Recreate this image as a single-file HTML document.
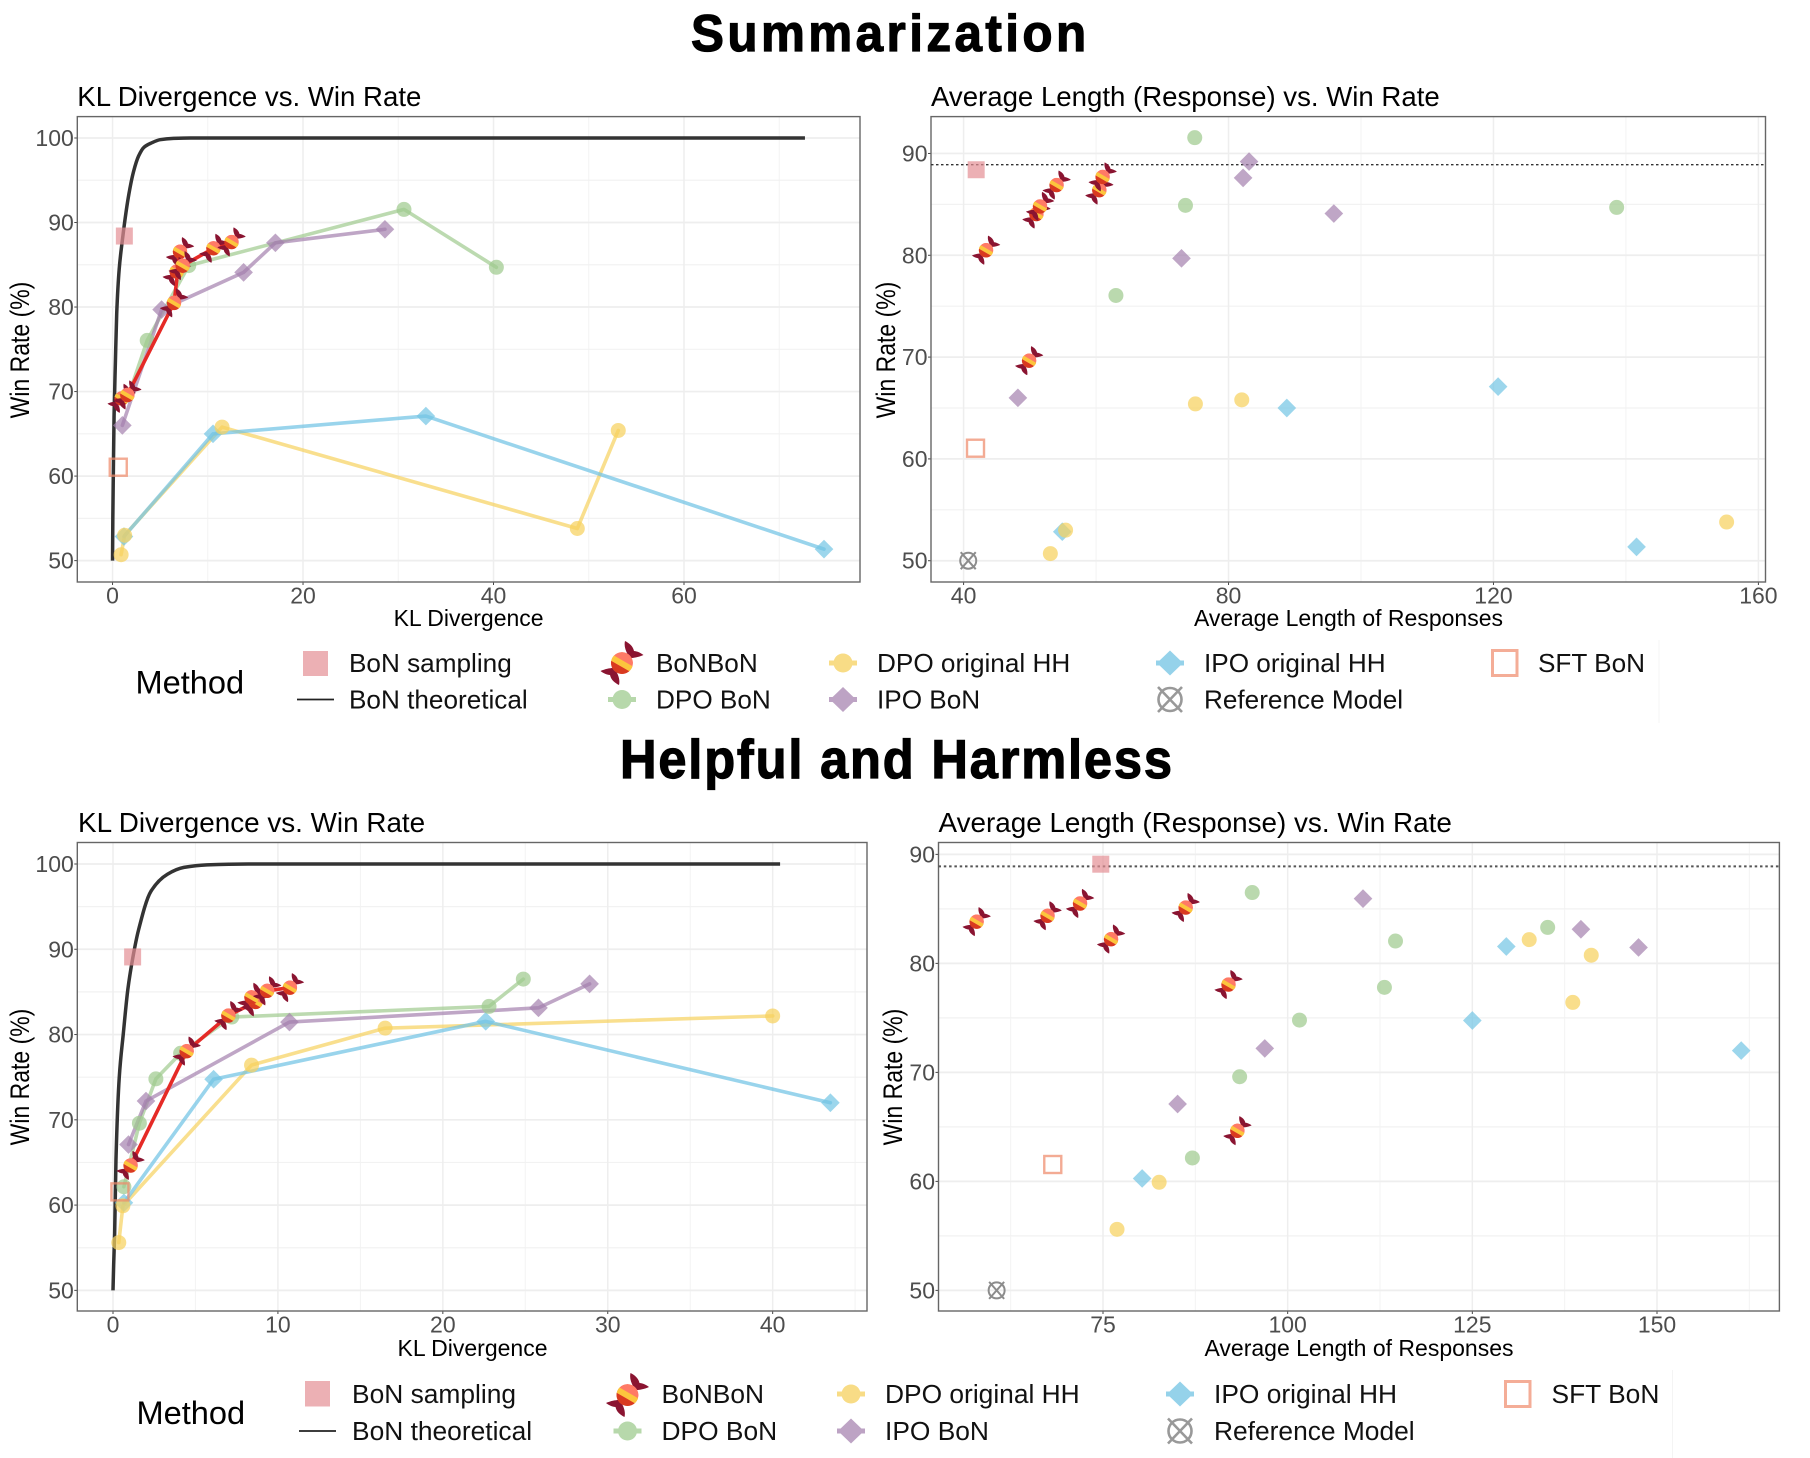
<!DOCTYPE html>
<html lang="en">
<head>
<meta charset="utf-8">
<title>Summarization and Helpful and Harmless: BoNBoN comparison</title>
<style>
html,body{margin:0;padding:0;background:#fff;}
svg{display:block;font-family:"Liberation Sans",Arial,sans-serif;}
.tick{font-size:23px;fill:#4d4d4d;}
.axis{font-size:23px;fill:#000;}
.sub{font-size:27.6px;fill:#000;}
.sub2{font-size:27.85px;fill:#000;}
.lg{font-size:26.15px;fill:#111;}
.lg2{font-size:26.35px;fill:#111;}
.lgt{font-size:32.6px;fill:#000;}
.ttl{font-weight:bold;fill:#000;stroke:#000;stroke-width:1.2px;}
</style>
</head>
<body>
<svg id="figure" xmlns="http://www.w3.org/2000/svg" width="1810" height="1458" viewBox="0 0 1810 1458">
<defs>
  <clipPath id="candy-clip"><circle r="11"></circle></clipPath>
  <g id="candy">
    <path fill="#8a1431" d="M6,-8 C3,-13 2,-18 3,-22 C7,-20 11,-17 12,-12 C15,-12 19,-10 21.5,-8 C17,-6 12,-5 9,-5 Z"></path>
    <path fill="#8a1431" transform="rotate(180)" d="M6,-8 C3,-13 2,-18 3,-22 C7,-20 11,-17 12,-12 C15,-12 19,-10 21.5,-8 C17,-6 12,-5 9,-5 Z"></path>
    <g clip-path="url(#candy-clip)">
      <circle r="11" fill="#ff7a66"></circle>
      <g transform="rotate(30)">
        <rect x="-14" y="-2.5" width="28" height="6" fill="#fcc63d"></rect>
        <rect x="-14" y="3.5" width="28" height="9" fill="#d93a20"></rect>
      </g>
    </g>
  </g>
</defs>
<rect width="1810" height="1458" fill="#fff"></rect>

<text class="ttl" font-size="52" transform="translate(691,51) scale(.95,1)" textLength="416" lengthAdjust="spacing">Summarization</text>
<text class="ttl" font-size="55" transform="translate(620,778) scale(.92,1)" textLength="600" lengthAdjust="spacing">Helpful and Harmless</text>

<text class="sub" x="77.3" y="106">KL Divergence vs. Win Rate</text>
<text class="sub" x="931" y="106">Average Length (Response) vs. Win Rate</text>
<text class="sub2" x="78" y="832">KL Divergence vs. Win Rate</text>
<text class="sub2" x="938.5" y="832">Average Length (Response) vs. Win Rate</text>

<g id="panel-sum-kl"></g>
<g id="panel-sum-len"></g>
<g id="panel-hh-kl"></g>
<g id="panel-hh-len"></g>

<text class="axis" x="468.6" y="626" text-anchor="middle">KL Divergence</text>
<text class="axis" x="1348.5" y="626" text-anchor="middle">Average Length of Responses</text>
<text class="axis" x="472.5" y="1356" text-anchor="middle">KL Divergence</text>
<text class="axis" x="1359" y="1356" text-anchor="middle">Average Length of Responses</text>
<text class="axis" transform="translate(29,350) rotate(-90) scale(1,1.15)" text-anchor="middle">Win Rate (%)</text>
<text class="axis" transform="translate(895,350) rotate(-90) scale(1,1.15)" text-anchor="middle">Win Rate (%)</text>
<text class="axis" transform="translate(29,1077) rotate(-90) scale(1,1.15)" text-anchor="middle">Win Rate (%)</text>
<text class="axis" transform="translate(902,1077) rotate(-90) scale(1,1.15)" text-anchor="middle">Win Rate (%)</text>

<!-- Top legend -->
<g>
  <line x1="1659" x2="1659" y1="640" y2="723" stroke="#f4f4f4" stroke-width="1"></line>
  <text class="lgt" x="135.5" y="693.5">Method</text>
  <rect x="303" y="651" width="25" height="25" fill="#e48e94" opacity=".7"></rect>
  <text class="lg" x="349" y="672">BoN sampling</text>
  <line x1="297" x2="334" y1="699.5" y2="699.5" stroke="#222" stroke-width="1.8"></line>
  <text class="lg" x="349" y="708.5">BoN theoretical</text>
  <use href="#candy" transform="translate(622,663)"></use>
  <text class="lg" x="656" y="672">BoNBoN</text>
  <g fill="#9fcb8f" opacity=".75"><rect x="608" y="697" width="28" height="5"></rect><circle cx="622" cy="699.5" r="9.5"></circle></g>
  <text class="lg" x="656" y="708.5">DPO BoN</text>
  <g fill="#f6d15e" opacity=".75"><rect x="829" y="660.5" width="28" height="5"></rect><circle cx="843" cy="663" r="9.5"></circle></g>
  <text class="lg" x="877" y="672">DPO original HH</text>
  <g fill="#a480ae" opacity=".72"><rect x="829" y="697" width="28" height="5"></rect><path d="M843,687 L856,699.5 L843,712 L830,699.5 Z"></path></g>
  <text class="lg" x="877" y="708.5">IPO BoN</text>
  <g fill="#72c4e4" opacity=".75"><rect x="1156" y="660.5" width="28" height="5"></rect><path d="M1170,650.5 L1183,663 L1170,675.5 L1157,663 Z"></path></g>
  <text class="lg" x="1204" y="672">IPO original HH</text>
  <g fill="none" stroke="#999" stroke-width="2.6"><circle cx="1170" cy="699.5" r="11.5"></circle><path d="M1158,687 L1182,712 M1182,687 L1158,712"></path></g>
  <text class="lg" x="1204" y="708.5">Reference Model</text>
  <rect x="1492.5" y="650.5" width="24.5" height="25" fill="none" stroke="#ef8a6b" stroke-width="3" opacity=".7"></rect>
  <text class="lg" x="1538" y="672">SFT BoN</text>
</g>

<!-- Bottom legend -->
<g>
  <line x1="1672.5" x2="1672.5" y1="1370" y2="1458" stroke="#f4f4f4" stroke-width="1"></line>
  <text class="lgt" x="136.5" y="1424">Method</text>
  <rect x="305" y="1381" width="25" height="25.5" fill="#e48e94" opacity=".7"></rect>
  <text class="lg2" x="352" y="1403">BoN sampling</text>
  <line x1="299" x2="336" y1="1431" y2="1431" stroke="#222" stroke-width="1.8"></line>
  <text class="lg2" x="352" y="1440">BoN theoretical</text>
  <use href="#candy" transform="translate(627.5,1395)"></use>
  <text class="lg2" x="661.5" y="1403">BoNBoN</text>
  <g fill="#9fcb8f" opacity=".75"><rect x="613.5" y="1428.5" width="28" height="5"></rect><circle cx="627.5" cy="1431" r="9.5"></circle></g>
  <text class="lg2" x="661.5" y="1440">DPO BoN</text>
  <g fill="#f6d15e" opacity=".75"><rect x="837" y="1391.5" width="28" height="5"></rect><circle cx="851" cy="1394" r="9.5"></circle></g>
  <text class="lg2" x="885" y="1403">DPO original HH</text>
  <g fill="#a480ae" opacity=".72"><rect x="837" y="1428.5" width="28" height="5"></rect><path d="M851,1418.5 L864,1431 L851,1443.5 L838,1431 Z"></path></g>
  <text class="lg2" x="885" y="1440">IPO BoN</text>
  <g fill="#72c4e4" opacity=".75"><rect x="1166" y="1391.5" width="28" height="5"></rect><path d="M1180,1381.5 L1193,1394 L1180,1406.5 L1167,1394 Z"></path></g>
  <text class="lg2" x="1214" y="1403">IPO original HH</text>
  <g fill="none" stroke="#999" stroke-width="2.6"><circle cx="1180" cy="1431" r="11.5"></circle><path d="M1168,1418.5 L1192,1443.5 M1192,1418.5 L1168,1443.5"></path></g>
  <text class="lg2" x="1214" y="1440">Reference Model</text>
  <rect x="1505.5" y="1381.5" width="24.5" height="25" fill="none" stroke="#ef8a6b" stroke-width="3" opacity=".7"></rect>
  <text class="lg2" x="1551.5" y="1403">SFT BoN</text>
</g>
</svg>

<script>
// ---------- Tick labels ----------
const sumKlTicks = [0, 20, 40, 60];
const sumLenTicks = [40, 80, 120, 160];
const hhKlTicks = [0, 10, 20, 30, 40];
const hhLenTicks = [75, 100, 125, 150];
const winTicksFull = [50, 60, 70, 80, 90, 100];
const winTicksShort = [50, 60, 70, 80, 90];

// ---------- Summarization: win rates ----------
const sumDpoBonWin = [76.05, 84.9, 91.55, 84.7];
const sumIpoBonWin = [66.0, 79.7, 84.1, 87.6, 89.2];
const sumIpoOrigWin = [52.85, 65.0, 67.1, 51.36];
const sumDpoOrigWin = [50.7, 53.0, 65.8, 53.8, 65.4];
const sumSamplingWin = [88.4];
const sumSftWin = [61.05];
const sumReferenceWin = [50];
const sumBaselineWin = [88.9];

// ---------- Summarization: KL divergence ----------
const sumDpoBonKl = [3.64, 8.0, 30.6, 40.3];
const sumDpoBonLeadKl = [1.7];
const sumDpoBonLeadWin = [69.6];
const sumIpoBonKl = [1.03, 5.15, 13.76, 17.1, 28.6];
const sumIpoOrigKl = [1.2, 10.55, 32.9, 74.7];
const sumDpoOrigKl = [0.9, 1.27, 11.5, 48.8, 53.1];
const sumSamplingKl = [1.24];
const sumSftKl = [0.6];
const sumBonbonKl = [0.96, 1.56, 6.46, 7.09, 6.74, 7.37, 10.6, 12.5];
const sumBonbonKlWin = [69.2, 69.6, 80.5, 86.55, 84.2, 84.9, 86.95, 87.7];
const sumCurveKl = [0, 0.03, 0.08, 0.16, 0.3, 0.44, 0.7, 1.03, 1.66, 2.2, 2.73, 3.3, 4.06, 5, 6.4, 8.2, 72.7];
const sumCurveWin = [50, 55, 60, 67, 73.5, 79.3, 84.5, 87.9, 93, 96, 97.85, 98.9, 99.4, 99.8, 99.95, 100, 100];

// ---------- Summarization: average length ----------
const sumDpoBonLen = [63.0, 73.5, 74.9, 138.6];
const sumIpoBonLen = [48.2, 72.9, 95.9, 82.2, 83.1];
const sumIpoOrigLen = [54.9, 88.8, 120.7, 141.6];
const sumDpoOrigLen = [53.1, 55.4, 82.0, 155.2, 75.0];
const sumSamplingLen = [41.9];
const sumSftLen = [41.8];
const sumReferenceLen = [40.7];
const sumBonbonLen = [49.9, 43.4, 51.0, 51.55, 54.05, 60.5, 61.0];
const sumBonbonLenWin = [69.65, 80.5, 84.05, 84.8, 86.9, 86.4, 87.7];

// ---------- Helpful and Harmless: win rates ----------
const hhDpoBonWin = [62.15, 69.6, 74.8, 77.8, 82.05, 83.3, 86.5];
const hhIpoBonWin = [67.1, 72.2, 81.46, 83.13, 85.94];
const hhIpoOrigWin = [60.27, 74.76, 81.55, 72.0];
const hhDpoOrigWin = [55.6, 59.92, 76.42, 80.75, 82.18];
const hhSamplingWin = [89.1];
const hhSftWin = [61.55];
const hhReferenceWin = [50];
const hhBaselineWin = [88.9];
const hhBonbonWin = [64.65, 78.06, 82.23, 83.83, 84.37, 85.13, 85.5];

// ---------- Helpful and Harmless: KL divergence ----------
const hhDpoBonKl = [0.66, 1.6, 2.6, 4.1, 7.2, 22.8, 24.88];
const hhIpoBonKl = [0.94, 2.0, 10.7, 25.8, 28.9];
const hhIpoOrigKl = [0.66, 6.1, 22.6, 43.5];
const hhDpoOrigKl = [0.35, 0.6, 8.4, 16.5, 40.0];
const hhSamplingKl = [1.19];
const hhSftKl = [0.42];
const hhBonbonKl = [1.07, 4.47, 7.0, 8.65, 8.4, 9.35, 10.73];
const hhCurveKl = [0, 0.04, 0.1, 0.18, 0.38, 0.63, 0.9, 1.22, 1.54, 2.3, 3.3, 4.3, 5.7, 8.2, 40.45];
const hhCurveWin = [50, 53, 56.7, 65.3, 75, 80.2, 85.3, 89.2, 92.2, 96.8, 98.8, 99.6, 99.9, 100, 100];

// ---------- Helpful and Harmless: average length ----------
const hhDpoBonLen = [87.1, 93.5, 101.6, 113.1, 114.6, 135.2, 95.2];
const hhIpoBonLen = [85.1, 96.9, 147.5, 139.7, 110.2];
const hhIpoOrigLen = [80.3, 125.0, 129.6, 161.4];
const hhDpoOrigLen = [76.9, 82.6, 138.6, 141.1, 132.7];
const hhSamplingLen = [74.7];
const hhSftLen = [68.2];
const hhReferenceLen = [60.6];
const hhBonbonLen = [93.2, 92.0, 76.1, 57.9, 67.5, 86.2, 71.9];

// ---------- Drawing helpers ----------
const SVGNS = 'http://www.w3.org/2000/svg';
const COLORS = { dpoBon: '#9fcb8f', ipoBon: '#a480ae', ipoOrig: '#72c4e4', dpoOrig: '#f6d15e', sampling: '#e48e94', sft: '#ef8a6b', bonbon: '#e52a26', curve: '#333333' };

function make(tag, parent) {
  const el = document.createElementNS(SVGNS, tag);
  parent.appendChild(el);
  return el;
}
function axes(panel) {
  const sx = v => panel.left + (v - panel.xd[0]) / (panel.xd[1] - panel.xd[0]) * (panel.right - panel.left);
  const sy = v => panel.bottom - (v - panel.yd[0]) / (panel.yd[1] - panel.yd[0]) * (panel.bottom - panel.top);
  return { sx, sy };
}
function midpoints(ticks, lo, hi) {
  const step = ticks[1] - ticks[0];
  const out = [];
  for (let v = ticks[0] - step / 2; v <= hi; v += step) { if (v >= lo) out.push(v); }
  return out;
}
function drawFrame(panel, xTicks, yTicks) {
  const g = document.getElementById(panel.id);
  const { sx, sy } = axes(panel);
  midpoints(xTicks, panel.xd[0], panel.xd[1]).forEach(v => {
    const l = make('line', g);
    
    
    l.setAttribute('x1', sx(v)); l.setAttribute('x2', sx(v));
    l.setAttribute('y1', panel.top); l.setAttribute('y2', panel.bottom);
    l.setAttribute('stroke', '#f3f3f3'); l.setAttribute('stroke-width', 1);
  });
  midpoints(yTicks, panel.yd[0], panel.yd[1]).forEach(v => {
    const l = make('line', g);
    
    
    l.setAttribute('x1', panel.left); l.setAttribute('x2', panel.right);
    l.setAttribute('y1', sy(v)); l.setAttribute('y2', sy(v));
    l.setAttribute('stroke', '#f2f2f2'); l.setAttribute('stroke-width', 1.2);
  });
  xTicks.forEach(v => {
    const l = make('line', g);
    
    
    l.setAttribute('x1', sx(v)); l.setAttribute('x2', sx(v));
    l.setAttribute('y1', panel.top); l.setAttribute('y2', panel.bottom);
    l.setAttribute('stroke', '#eeeeee'); l.setAttribute('stroke-width', 1.5);
    const t = make('line', g);
    
    
    t.setAttribute('x1', sx(v)); t.setAttribute('x2', sx(v));
    t.setAttribute('y1', panel.bottom); t.setAttribute('y2', panel.bottom + 3);
    t.setAttribute('stroke', '#444'); t.setAttribute('stroke-width', 1);
    const txt = make('text', g);
    
    
    txt.setAttribute('class', 'tick');
    txt.setAttribute('x', sx(v)); txt.setAttribute('y', panel.bottom + 21.5);
    txt.setAttribute('text-anchor', 'middle');
    txt.textContent = v;
  });
  yTicks.forEach(v => {
    const l = make('line', g);
    
    
    l.setAttribute('x1', panel.left); l.setAttribute('x2', panel.right);
    l.setAttribute('y1', sy(v)); l.setAttribute('y2', sy(v));
    l.setAttribute('stroke', '#eeeeee'); l.setAttribute('stroke-width', 1.7);
    const t = make('line', g);
    
    
    t.setAttribute('x1', panel.left - 3); t.setAttribute('x2', panel.left);
    t.setAttribute('y1', sy(v)); t.setAttribute('y2', sy(v));
    t.setAttribute('stroke', '#444'); t.setAttribute('stroke-width', 1);
    const txt = make('text', g);
    
    
    txt.setAttribute('class', 'tick');
    txt.setAttribute('x', panel.left - 3.5); txt.setAttribute('y', sy(v) + 8);
    txt.setAttribute('text-anchor', 'end');
    txt.textContent = v;
  });
  const b = make('rect', g);
  
  
  b.setAttribute('x', panel.left); b.setAttribute('y', panel.top);
  b.setAttribute('width', panel.right - panel.left); b.setAttribute('height', panel.bottom - panel.top);
  b.setAttribute('fill', 'none'); b.setAttribute('stroke', '#666'); b.setAttribute('stroke-width', 1.4);
}
function drawLine(panel, xs, ys, color, width, opacity) {
  const g = document.getElementById(panel.id);
  const { sx, sy } = axes(panel);
  const p = make('polyline', g);
  
  
  p.setAttribute('points', xs.map((v, i) => sx(v).toFixed(2) + ',' + sy(ys[i]).toFixed(2)).join(' '));
  p.setAttribute('fill', 'none'); p.setAttribute('stroke', color);
  p.setAttribute('stroke-width', width); p.setAttribute('stroke-opacity', opacity);
  p.setAttribute('stroke-linejoin', 'round'); p.setAttribute('stroke-linecap', 'round');
}
// Smooth monotone cubic through the read curve values
function drawCurve(panel, xs, ys, color, width) {
  const g = document.getElementById(panel.id);
  const { sx, sy } = axes(panel);
  const X = xs.map(sx), Y = ys.map(sy), n = X.length;
  const d = [];
  for (let i = 0; i < n - 1; i++) d.push((Y[i + 1] - Y[i]) / (X[i + 1] - X[i]));
  const m = [d[0]];
  for (let i = 1; i < n - 1; i++) {
    if (d[i - 1] * d[i] <= 0) { m.push(0); continue; }
    const h0 = X[i] - X[i - 1], h1 = X[i + 1] - X[i];
    const w1 = 2 * h1 + h0, w2 = h1 + 2 * h0;
    m.push((w1 + w2) / (w1 / d[i - 1] + w2 / d[i]));
  }
  m.push(d[n - 2]);
  let path = 'M' + X[0].toFixed(2) + ',' + Y[0].toFixed(2);
  for (let i = 0; i < n - 1; i++) {
    const h = (X[i + 1] - X[i]) / 3;
    path += 'C' + (X[i] + h).toFixed(2) + ',' + (Y[i] + m[i] * h).toFixed(2) + ' ' +
      (X[i + 1] - h).toFixed(2) + ',' + (Y[i + 1] - m[i + 1] * h).toFixed(2) + ' ' +
      X[i + 1].toFixed(2) + ',' + Y[i + 1].toFixed(2);
  }
  const p = make('path', g);
  
  
  p.setAttribute('d', path);
  p.setAttribute('fill', 'none'); p.setAttribute('stroke', color);
  p.setAttribute('stroke-width', width);
}
function drawCircles(panel, xs, ys, color) {
  const g = document.getElementById(panel.id);
  const { sx, sy } = axes(panel);
  xs.forEach((v, i) => {
    const c = make('circle', g);
    
    
    c.setAttribute('cx', sx(v)); c.setAttribute('cy', sy(ys[i])); c.setAttribute('r', 7.5);
    c.setAttribute('fill', color); c.setAttribute('fill-opacity', .72);
  });
}
function drawDiamonds(panel, xs, ys, color) {
  const g = document.getElementById(panel.id);
  const { sx, sy } = axes(panel);
  xs.forEach((v, i) => {
    const d = make('rect', g);
    
    
    d.setAttribute('x', -6.6); d.setAttribute('y', -6.6); d.setAttribute('width', 13.2); d.setAttribute('height', 13.2);
    d.setAttribute('transform', 'translate(' + sx(v) + ',' + sy(ys[i]) + ') rotate(45)');
    d.setAttribute('fill', color); d.setAttribute('fill-opacity', .7);
  });
}
function drawSquares(panel, xs, ys, color, hollow) {
  const g = document.getElementById(panel.id);
  const { sx, sy } = axes(panel);
  xs.forEach((v, i) => {
    const r = make('rect', g);
    
    
    r.setAttribute('x', sx(v) - 8.5); r.setAttribute('y', sy(ys[i]) - 8.5);
    r.setAttribute('width', 17); r.setAttribute('height', 17);
    if (hollow) {
      r.setAttribute('fill', 'none'); r.setAttribute('stroke', color);
      r.setAttribute('stroke-width', 2.4); r.setAttribute('stroke-opacity', .72);
    } else {
      r.setAttribute('fill', color); r.setAttribute('fill-opacity', .7);
    }
  });
}
function drawCandies(panel, xs, ys) {
  const g = document.getElementById(panel.id);
  const { sx, sy } = axes(panel);
  xs.forEach((v, i) => {
    const u = make('use', g);
    
    
    u.setAttribute('href', '#candy');
    u.setAttribute('transform', 'translate(' + sx(v) + ',' + sy(ys[i]) + ') scale(.66)');
  });
}
function drawReference(panel, xs, ys) {
  const g = document.getElementById(panel.id);
  const { sx, sy } = axes(panel);
  xs.forEach((v, i) => {
    const x = sx(v), y = sy(ys[i]);
    const c = make('circle', g);
    
    
    c.setAttribute('cx', x); c.setAttribute('cy', y); c.setAttribute('r', 8);
    c.setAttribute('fill', 'none'); c.setAttribute('stroke', '#8c8c8c'); c.setAttribute('stroke-width', 2);
    const m = make('path', g);
    
    
    m.setAttribute('d', 'M' + (x - 7.5) + ',' + (y - 8.5) + 'L' + (x + 7.5) + ',' + (y + 8.5) + 'M' + (x + 7.5) + ',' + (y - 8.5) + 'L' + (x - 7.5) + ',' + (y + 8.5));
    m.setAttribute('fill', 'none'); m.setAttribute('stroke', '#8c8c8c'); m.setAttribute('stroke-width', 2);
  });
}
function drawBaseline(panel, ys, color, width, dash) {
  const g = document.getElementById(panel.id);
  const { sy } = axes(panel);
  ys.forEach(v => {
    const l = make('line', g);
    
    
    l.setAttribute('x1', panel.left); l.setAttribute('x2', panel.right);
    l.setAttribute('y1', sy(v)); l.setAttribute('y2', sy(v));
    l.setAttribute('stroke', color); l.setAttribute('stroke-width', width);
    l.setAttribute('stroke-dasharray', dash);
  });
}

// ---------- Panels ----------
const panelSumKl = { id: 'panel-sum-kl', left: 77.3, right: 860, top: 116.6, bottom: 582, xd: [-3.70, 78.48], yd: [47.47, 102.53] };
const panelSumLen = { id: 'panel-sum-len', left: 931, right: 1765.5, top: 116.6, bottom: 582, xd: [35.08, 161.07], yd: [47.91, 93.62] };
const panelHhKl = { id: 'panel-hh-kl', left: 77.3, right: 867, top: 842.5, bottom: 1311, xd: [-2.165, 45.72], yd: [47.58, 102.52] };
const panelHhLen = { id: 'panel-hh-len', left: 938.5, right: 1779.4, top: 842.5, bottom: 1311, xd: [52.73, 166.57], yd: [48.11, 91.09] };

// Summarization: KL divergence vs. win rate
drawFrame(panelSumKl, sumKlTicks, winTicksFull);
drawCurve(panelSumKl, sumCurveKl, sumCurveWin, COLORS.curve, 3.5);
drawLine(panelSumKl, sumDpoBonLeadKl.concat(sumDpoBonKl), sumDpoBonLeadWin.concat(sumDpoBonWin), COLORS.dpoBon, 3.6, .7);
drawLine(panelSumKl, sumIpoBonKl, sumIpoBonWin, COLORS.ipoBon, 3.6, .7);
drawLine(panelSumKl, sumDpoOrigKl, sumDpoOrigWin, COLORS.dpoOrig, 3.6, .7);
drawLine(panelSumKl, sumIpoOrigKl, sumIpoOrigWin, COLORS.ipoOrig, 3.6, .72);
drawDiamonds(panelSumKl, sumIpoOrigKl, sumIpoOrigWin, COLORS.ipoOrig);
drawCircles(panelSumKl, sumDpoBonKl, sumDpoBonWin, COLORS.dpoBon);
drawDiamonds(panelSumKl, sumIpoBonKl, sumIpoBonWin, COLORS.ipoBon);
drawCircles(panelSumKl, sumDpoOrigKl, sumDpoOrigWin, COLORS.dpoOrig);
drawSquares(panelSumKl, sumSamplingKl, sumSamplingWin, COLORS.sampling, false);
drawSquares(panelSumKl, sumSftKl, sumSftWin, COLORS.sft, true);
drawLine(panelSumKl, sumBonbonKl, sumBonbonKlWin, COLORS.bonbon, 3.6, 1);
drawCandies(panelSumKl, sumBonbonKl, sumBonbonKlWin);

// Summarization: length vs. win rate
drawFrame(panelSumLen, sumLenTicks, winTicksShort);
drawBaseline(panelSumLen, sumBaselineWin, '#333', 1.4, '2.5 2.5');
drawDiamonds(panelSumLen, sumIpoOrigLen, sumIpoOrigWin, COLORS.ipoOrig);
drawCircles(panelSumLen, sumDpoBonLen, sumDpoBonWin, COLORS.dpoBon);
drawDiamonds(panelSumLen, sumIpoBonLen, sumIpoBonWin, COLORS.ipoBon);
drawCircles(panelSumLen, sumDpoOrigLen, sumDpoOrigWin, COLORS.dpoOrig);
drawSquares(panelSumLen, sumSamplingLen, sumSamplingWin, COLORS.sampling, false);
drawSquares(panelSumLen, sumSftLen, sumSftWin, COLORS.sft, true);
drawReference(panelSumLen, sumReferenceLen, sumReferenceWin);
drawCandies(panelSumLen, sumBonbonLen, sumBonbonLenWin);

// Helpful and Harmless: KL divergence vs. win rate
drawFrame(panelHhKl, hhKlTicks, winTicksFull);
drawCurve(panelHhKl, hhCurveKl, hhCurveWin, COLORS.curve, 3.5);
drawLine(panelHhKl, hhDpoBonKl, hhDpoBonWin, COLORS.dpoBon, 3.6, .7);
drawLine(panelHhKl, hhIpoBonKl, hhIpoBonWin, COLORS.ipoBon, 3.6, .7);
drawLine(panelHhKl, hhDpoOrigKl, hhDpoOrigWin, COLORS.dpoOrig, 3.6, .7);
drawLine(panelHhKl, hhIpoOrigKl, hhIpoOrigWin, COLORS.ipoOrig, 3.6, .72);
drawDiamonds(panelHhKl, hhIpoOrigKl, hhIpoOrigWin, COLORS.ipoOrig);
drawCircles(panelHhKl, hhDpoBonKl, hhDpoBonWin, COLORS.dpoBon);
drawDiamonds(panelHhKl, hhIpoBonKl, hhIpoBonWin, COLORS.ipoBon);
drawCircles(panelHhKl, hhDpoOrigKl, hhDpoOrigWin, COLORS.dpoOrig);
drawSquares(panelHhKl, hhSamplingKl, hhSamplingWin, COLORS.sampling, false);
drawSquares(panelHhKl, hhSftKl, hhSftWin, COLORS.sft, true);
drawLine(panelHhKl, hhBonbonKl, hhBonbonWin, COLORS.bonbon, 3.6, 1);
drawCandies(panelHhKl, hhBonbonKl, hhBonbonWin);

// Helpful and Harmless: length vs. win rate
drawFrame(panelHhLen, hhLenTicks, winTicksShort);
drawBaseline(panelHhLen, hhBaselineWin, '#555', 1.9, '2.5 2.8');
drawDiamonds(panelHhLen, hhIpoOrigLen, hhIpoOrigWin, COLORS.ipoOrig);
drawCircles(panelHhLen, hhDpoBonLen, hhDpoBonWin, COLORS.dpoBon);
drawDiamonds(panelHhLen, hhIpoBonLen, hhIpoBonWin, COLORS.ipoBon);
drawCircles(panelHhLen, hhDpoOrigLen, hhDpoOrigWin, COLORS.dpoOrig);
drawSquares(panelHhLen, hhSamplingLen, hhSamplingWin, COLORS.sampling, false);
drawSquares(panelHhLen, hhSftLen, hhSftWin, COLORS.sft, true);
drawReference(panelHhLen, hhReferenceLen, hhReferenceWin);
drawCandies(panelHhLen, hhBonbonLen, hhBonbonWin);
</script>
</body>
</html>
